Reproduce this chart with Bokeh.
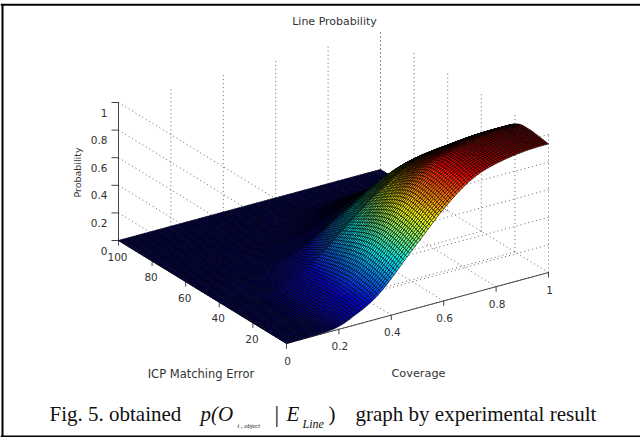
import numpy as np
from bokeh.plotting import figure
from bokeh.core.properties import value
from bokeh.embed import file_html
from bokeh.resources import INLINE

coverage_ticks = [0, 0.2, 0.4, 0.6, 0.8, 1]
error_ticks = [0, 20, 40, 60, 80, 100]
prob_ticks = [0, 0.2, 0.4, 0.6, 0.8, 1]
coverage_labels = ["0", "0.2", "0.4", "0.6", "0.8", "1"]
error_labels = ["", "20", "40", "60", "80", "100"]
prob_labels = ["0", "0.2", "0.4", "0.6", "0.8", "1"]

# height of the surface against coverage 0..1 (step 0.01)
coverage_profile = [
    0.000, 0.000, 0.000, 0.001, 0.001, 0.001, 0.002, 0.002, 0.002, 0.003,
    0.003, 0.004, 0.005, 0.005, 0.006, 0.007, 0.009, 0.011, 0.013, 0.017,
    0.022, 0.028, 0.035, 0.043, 0.052, 0.062, 0.072, 0.081, 0.090, 0.099,
    0.110, 0.122, 0.134, 0.146, 0.160, 0.176, 0.193, 0.211, 0.230, 0.250,
    0.270, 0.291, 0.312, 0.334, 0.355, 0.377, 0.398, 0.419, 0.440, 0.460,
    0.480, 0.500, 0.521, 0.541, 0.562, 0.582, 0.603, 0.623, 0.643, 0.662,
    0.680, 0.698, 0.716, 0.733, 0.750, 0.766, 0.781, 0.796, 0.810, 0.823,
    0.835, 0.846, 0.856, 0.866, 0.875, 0.882, 0.889, 0.895, 0.901, 0.906,
    0.911, 0.915, 0.919, 0.923, 0.927, 0.930, 0.934, 0.936, 0.939, 0.941,
    0.943, 0.945, 0.947, 0.948, 0.949, 0.950, 0.950, 0.951, 0.951, 0.951, 0.951]
# relative crest height against matching error 0..100 (step 1)
error_profile = [
    0.980, 0.982, 0.984, 0.986, 0.988, 0.990, 0.992, 0.994, 0.996, 0.998,
    1.000, 1.000, 1.000, 1.000, 1.000, 1.000, 0.998, 0.995, 0.989, 0.982,
    0.975, 0.965, 0.955, 0.944, 0.932, 0.920, 0.909, 0.898, 0.887, 0.875,
    0.863, 0.850, 0.838, 0.825, 0.813, 0.800, 0.786, 0.772, 0.758, 0.744,
    0.730, 0.720, 0.709, 0.698, 0.687, 0.676, 0.665, 0.654, 0.643, 0.630,
    0.616, 0.600, 0.584, 0.568, 0.552, 0.535, 0.519, 0.503, 0.487, 0.472,
    0.458, 0.443, 0.429, 0.414, 0.400, 0.385, 0.371, 0.356, 0.340, 0.324,
    0.309, 0.293, 0.277, 0.261, 0.246, 0.230, 0.214, 0.197, 0.180, 0.163,
    0.146, 0.129, 0.111, 0.094, 0.077, 0.060, 0.043, 0.026, 0.018, 0.013,
    0.009, 0.006, 0.004, 0.003, 0.002, 0.001, 0.001, 0.000, 0.000, 0.000, 0.000]
# how far the rise moves along coverage as the matching error grows (step 1)
coverage_shift = [
    0.000, -0.002, -0.004, -0.006, -0.008, -0.010, -0.012, -0.013, -0.014, -0.015,
    -0.016, -0.017, -0.018, -0.019, -0.020, -0.020, -0.020, -0.020, -0.020, -0.020,
    -0.020, -0.020, -0.020, -0.020, -0.020, -0.020, -0.019, -0.018, -0.017, -0.017,
    -0.016, -0.015, -0.014, -0.013, -0.013, -0.012, -0.011, -0.010, -0.006, -0.002,
    0.002, 0.006, 0.010, 0.014, 0.018, 0.022, 0.026, 0.030, 0.034, 0.038,
    0.042, 0.046, 0.050, 0.057, 0.064, 0.071, 0.078, 0.085, 0.092, 0.098,
    0.105, 0.112, 0.119, 0.126, 0.133, 0.140, 0.149, 0.158, 0.168, 0.177,
    0.186, 0.195, 0.205, 0.214, 0.223, 0.232, 0.242, 0.251, 0.260, 0.272,
    0.283, 0.295, 0.307, 0.318, 0.330, 0.342, 0.353, 0.365, 0.377, 0.388,
    0.400, 0.405, 0.410, 0.415, 0.420, 0.425, 0.430, 0.435, 0.440, 0.445, 0.450]

C = np.arange(len(coverage_profile)) / (len(coverage_profile) - 1)
E = np.arange(len(error_profile)) * 100.0 / (len(error_profile) - 1)
P = np.zeros((len(C), len(E)))
for j in range(len(E)):
    P[:, j] = error_profile[j] * np.interp(C - coverage_shift[j], C, coverage_profile)


def sx(c, e, z=0.0):
    return 286 + 262.0 * np.asarray(c) - 1.68 * np.asarray(e)


def sy(c, e, z=0.0):
    return 343 - 71.0 * np.asarray(c) - 1.03 * np.asarray(e) - 138.0 * np.asarray(z)


def jet(v):
    v = float(np.clip(v, 0, 1))
    r = np.clip(min(4 * v - 1.5, -4 * v + 4.5), 0, 1)
    g = np.clip(min(4 * v - 0.5, -4 * v + 3.5), 0, 1)
    b = np.clip(min(4 * v + 0.5, -4 * v + 2.5), 0, 1)
    return "#%02x%02x%02x" % (int(r * 255), int(g * 255), int(b * 255))


p = figure(width=640, height=437, x_range=(0, 640), y_range=(437, 0),
           output_backend="svg", toolbar_location=None, min_border=0,
           outline_line_color=None, background_fill_color="white")
p.axis.visible = False
p.grid.visible = False

GRID = "#666666"
DOT = "1 3"


def gline(c0, e0, z0, c1, e1, z1):
    p.line([float(sx(c0, e0)), float(sx(c1, e1))],
           [float(sy(c0, e0, z0)), float(sy(c1, e1, z1))],
           line_color=GRID, line_width=1, line_dash=DOT)


# walls and floor grid
for c in coverage_ticks:
    gline(c, 100, 0, c, 100, 1)
    gline(c, 100, 0, c, 0, 0)
for e in error_ticks:
    gline(1, e, 0, 1, e, 1)
    gline(1, e, 0, 0, e, 0)
for z in prob_ticks[1:]:
    gline(0, 100, z, 0, 0, z)
    gline(1, 0, z, 0, 0, z)

# axes
AX = "#444444"
p.line([float(sx(0, 100))] * 2, [float(sy(0, 100, 0)), float(sy(0, 100, 1))], line_color=AX, line_width=1)
p.line([float(sx(0, 100)), float(sx(0, 0))], [float(sy(0, 100)), float(sy(0, 0))], line_color=AX, line_width=1)
p.line([float(sx(0, 0)), float(sx(1, 0))], [float(sy(0, 0)), float(sy(1, 0))], line_color=AX, line_width=1)
for z in prob_ticks:
    x0, y0 = float(sx(0, 100)), float(sy(0, 100, z))
    p.line([x0 - 7, x0], [y0, y0], line_color=AX, line_width=1)
for e in error_ticks:
    x0, y0 = float(sx(0, e)), float(sy(0, e))
    p.line([x0, x0], [y0, y0 + 5], line_color=AX, line_width=1)
for c in coverage_ticks:
    x0, y0 = float(sx(c, 0)), float(sy(c, 0))
    p.line([x0, x0], [y0, y0 + 5], line_color=AX, line_width=1)

# surface, painted back to front
xs, ys, cols = [], [], []
zmax = P.max()
for i in range(len(C) - 2, -1, -1):
    for j in range(len(E) - 2, -1, -1):
        cc = [C[i], C[i + 1], C[i + 1], C[i]]
        ee = [E[j], E[j], E[j + 1], E[j + 1]]
        zz = [P[i, j], P[i + 1, j], P[i + 1, j + 1], P[i, j + 1]]
        xs.append(sx(cc, ee).tolist())
        ys.append(sy(cc, ee, zz).tolist())
        cols.append(jet(np.mean(zz) / zmax))
p.patches(xs, ys, fill_color=cols, line_color="black", line_width=0.65, line_alpha=1.0)

SANS = value("DejaVu Sans")
TXT = "#333333"


def label(x, y, s, size="10.5px", align="center", angle=0, font=SANS, color=TXT, style="normal"):
    p.text([x], [y], text=[s], text_font=font, text_font_size=size, text_align=align,
           text_baseline="middle", angle=angle, text_color=color, text_font_style=style)


for v, s in zip(prob_ticks, prob_labels):
    label(107, float(sy(0, 100, v)) + 10, s, align="right")
for v, s in zip(error_ticks, error_labels):
    if s:
        label(float(sx(0, v)) - 1, float(sy(0, v)) + 16, s)
for v, s in zip(coverage_ticks, coverage_labels):
    label(float(sx(v, 0)) + 1, float(sy(v, 0)) + 17, s)

label(334, 21, "Line Probability", size="11px")
label(200.5, 373, "ICP Matching Error", size="11.5px")
label(418, 373, "Coverage", size="11.3px")
label(77, 172, "Probability", size="9.5px", angle=np.pi / 2)

# frame
p.line([0, 640], [4.3, 4.3], line_color="black", line_width=2)
p.line([2, 2], [4, 437], line_color="black", line_width=2)
p.line([0, 640], [436, 436], line_color="black", line_width=2)

# caption
SERIF = value("Liberation Serif")
CAP = "#111111"
label(49, 413, "Fig. 5. obtained", size="21px", align="left", font=SERIF, color=CAP)
label(200, 413, "p(O", size="21px", align="left", font=SERIF, color=CAP, style="italic")
label(237, 425, "t , object", size="6.5px", align="left", font=SERIF, color=CAP, style="italic")
label(274, 414, "|", size="23px", align="left", font=SERIF, color=CAP)
label(286, 413, "E", size="21px", align="left", font=SERIF, color=CAP, style="italic")
label(302, 423, "Line", size="12px", align="left", font=SERIF, color=CAP, style="italic")
label(328, 413, ")", size="21px", align="left", font=SERIF, color=CAP)
label(355, 413, "graph by experimental result", size="21px", align="left", font=SERIF, color=CAP)

open("out.html", "w").write(file_html(p, INLINE))
